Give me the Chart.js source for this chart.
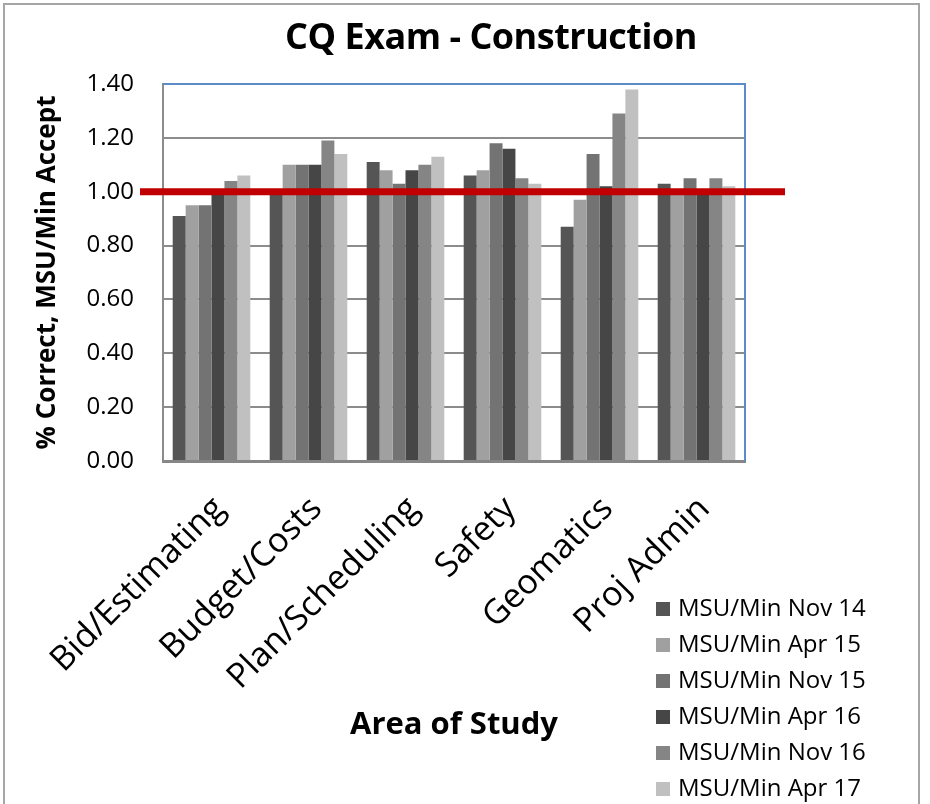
<!DOCTYPE html>
<html>
<head>
<meta charset="utf-8">
<script src="https://cdn.jsdelivr.net/npm/chart.js@4.4.0/dist/chart.umd.min.js"></script>
<style>
  body { margin: 0; background: #fff; }
  #wrap { position: relative; width: 930px; height: 804px; overflow: hidden; font-family: "Open Sans", sans-serif; }
  #frame { position: absolute; left: 3px; top: 3px; width: 917px; height: 830px; border: 2px solid #a6a6a6; box-sizing: border-box; }
  #title { position: absolute; left: 241px; width: 500px; top: 11px; text-align: center; font-weight: bold; font-size: 36px; letter-spacing: -0.5px; color: #000; }
  #legend { position: absolute; left: 656px; top: 589px; font-size: 24px; color: #000; }
  #legend div { height: 36px; line-height: 36px; white-space: nowrap; }
  #legend span { display: inline-block; width: 14px; height: 14px; margin-right: 8px; vertical-align: 0px; }
  canvas { position: absolute; left: 0; top: 0; }
</style>
</head>
<body>
<div id="wrap">
  <div id="frame"></div>
  <canvas id="chart" width="930" height="804"></canvas>
  <div id="title">CQ Exam - Construction</div>
  <div id="legend"></div>
</div>
<script>
// areas of study
const categories = ["Bid/Estimating", "Budget/Costs", "Plan/Scheduling", "Safety", "Geomatics", "Proj Admin"];

// MSU / minimum acceptable ratio for each exam sitting
const nov14 = [0.91, 1.00, 1.11, 1.06, 0.87, 1.03];
const apr15 = [0.95, 1.10, 1.08, 1.08, 0.97, 1.00];
const nov15 = [0.95, 1.10, 1.03, 1.18, 1.14, 1.05];
const apr16 = [0.99, 1.10, 1.08, 1.16, 1.02, 1.00];
const nov16 = [1.04, 1.19, 1.10, 1.05, 1.29, 1.05];
const apr17 = [1.06, 1.14, 1.13, 1.03, 1.38, 1.02];

const seriesNames = ["MSU/Min Nov 14", "MSU/Min Apr 15", "MSU/Min Nov 15", "MSU/Min Apr 16", "MSU/Min Nov 16", "MSU/Min Apr 17"];
const seriesValues = [nov14, apr15, nov15, apr16, nov16, apr17];
const seriesColors = ["#555555", "#a0a0a0", "#737373", "#464646", "#858585", "#c0c0c0"];

const yTicks = [0, 0.2, 0.4, 0.6, 0.8, 1.0, 1.2, 1.4];
const targetValue = 1.0;

// red "min accept" line plus blue top/right plot border
const extrasPlugin = {
  id: "extras",
  afterDatasetsDraw(chart) {
    const { ctx, chartArea, scales } = chart;
    ctx.save();
    ctx.strokeStyle = "#5b8cc8";
    ctx.lineWidth = 2;
    ctx.beginPath();
    ctx.moveTo(chartArea.left, chartArea.top);
    ctx.lineTo(chartArea.right, chartArea.top);
    ctx.lineTo(chartArea.right, chartArea.bottom);
    ctx.stroke();

    const y = scales.y.getPixelForValue(targetValue);
    ctx.strokeStyle = "#c00000";
    ctx.lineWidth = 7;
    ctx.beginPath();
    ctx.moveTo(chartArea.left - 23, y);
    ctx.lineTo(chartArea.right + 40, y);
    ctx.stroke();
    ctx.restore();
  }
};

const ctx = document.getElementById("chart").getContext("2d");
const chart = new Chart(ctx, {
  type: "bar",
  data: {
    labels: categories,
    datasets: seriesNames.map((name, i) => ({
      label: name,
      data: seriesValues[i],
      backgroundColor: seriesColors[i],
      borderWidth: 0,
      categoryPercentage: 0.8,
      barPercentage: 1.0,
    })),
  },
  options: {
    responsive: false,
    animation: false,
    layout: { padding: { left: 0, right: 185, top: 84, bottom: 60 } },
    plugins: {
      legend: { display: false },
      title: { display: false },
      tooltip: { enabled: false },
    },
    scales: {
      x: {
        grid: { display: false },
        border: { color: "#868686", width: 3 },
        ticks: {
          color: "#000",
          font: { family: "Open Sans", size: 34 },
          minRotation: 45,
          maxRotation: 45,
          padding: 20,
          labelOffset: 8,
        },
        title: {
          display: true,
          text: "Area of Study",
          color: "#000",
          font: { family: "Open Sans", size: 31, weight: "bold" },
          padding: { top: 0, bottom: 0 },
        },
        afterFit(scale) { scale.height = 283; },
      },
      y: {
        min: 0,
        max: 1.4,
        afterBuildTicks(scale) { scale.ticks = yTicks.map(v => ({ value: v })); },
        grid: { color: "#8c8c8c", lineWidth: 2, drawTicks: false },
        border: { color: "#8c8c8c", width: 2 },
        ticks: {
          color: "#000",
          font: { family: "Open Sans", size: 24 },
          padding: 29,
          callback: v => Number(v).toFixed(2),
        },
        title: {
          display: true,
          text: "% Correct, MSU/Min Accept",
          color: "#000",
          font: { family: "Open Sans", size: 26, weight: "bold" },
          padding: { top: 32, bottom: 0 },
        },
        afterFit(scale) { scale.width = 163; },
      },
    },
  },
  plugins: [extrasPlugin],
});

// legend block below the plot on the right
const legendEl = document.getElementById("legend");
seriesNames.forEach((name, i) => {
  const row = document.createElement("div");
  const box = document.createElement("span");
  box.style.background = seriesColors[i];
  row.appendChild(box);
  row.appendChild(document.createTextNode(name));
  legendEl.appendChild(row);
});
</script>
</body>
</html>
